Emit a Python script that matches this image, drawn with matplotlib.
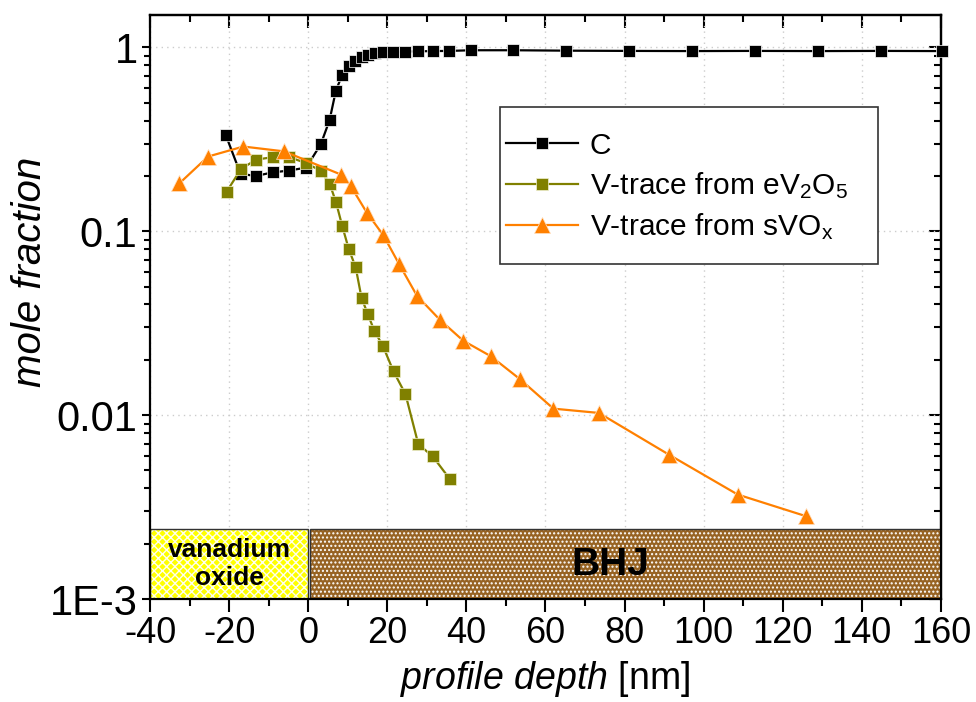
import matplotlib
matplotlib.use("Agg")
import matplotlib.pyplot as plt
from matplotlib.patches import Rectangle
import numpy as np

plt.rcParams['font.family'] = ['Liberation Sans', 'DejaVu Sans']
plt.rcParams['mathtext.fontset'] = 'custom'
plt.rcParams['mathtext.rm'] = 'Liberation Sans'
plt.rcParams['mathtext.it'] = 'Liberation Sans:italic'
plt.rcParams['mathtext.bf'] = 'Liberation Sans:bold'
plt.rcParams['mathtext.default'] = 'regular'

# ---- data ----
c_depth = [-20.8, -17.1, -13.2, -9.0, -4.8, -0.5, 3.2, 5.4, 7.0, 8.6, 10.2, 11.9,
           13.5, 15.1, 16.8, 18.8, 21.5, 24.6, 27.8, 31.5, 35.7, 41.2, 51.9,
           65.1, 81.1, 97.0, 113.0, 129.0, 144.8, 160.2]
c_frac = [0.332, 0.205, 0.200, 0.209, 0.214, 0.222, 0.298, 0.402, 0.582, 0.709,
          0.796, 0.848, 0.885, 0.911, 0.930, 0.942, 0.944, 0.949, 0.952, 0.955,
          0.957, 0.965, 0.965, 0.960, 0.957, 0.955, 0.957, 0.955, 0.957, 0.955]

e_depth = [-20.6, -17.0, -13.2, -9.0, -4.8, -0.56, 3.24, 5.44, 7.03, 8.62, 10.24,
           12.01, 13.48, 15.05, 16.71, 18.84, 21.57, 24.60, 27.84, 31.48, 35.78]
e_frac = [0.1645, 0.218, 0.245, 0.253, 0.253, 0.235, 0.213, 0.181, 0.144, 0.1065,
          0.0803, 0.0636, 0.0435, 0.0355, 0.0288, 0.0239, 0.0173, 0.0130,
          0.00695, 0.00597, 0.00450]

s_depth = [-32.6, -25.3, -16.4, -6.1, 8.4, 10.7, 14.8, 19.0, 23.0, 27.5, 33.3,
           39.2, 46.2, 53.6, 62.0, 73.5, 91.2, 108.6, 125.9]
s_frac = [0.182, 0.255, 0.289, 0.272, 0.203, 0.177, 0.1265, 0.0951, 0.0662,
          0.0446, 0.0330, 0.0254, 0.0209, 0.01566, 0.01085, 0.01028, 0.00610,
          0.00370, 0.00282]

series_labels = ['C', 'V-trace from eV$_2$O$_5$', 'V-trace from sVO$_x$']

layer_names = ['vanadium\noxide', 'BHJ']
layer_start = [-40, 0.4]
layer_end = [0, 160]
layer_top = 0.00239

xticks = [-40, -20, 0, 20, 40, 60, 80, 100, 120, 140, 160]
yticks = [1e-3, 1e-2, 1e-1, 1]
ytick_labels = ['1E-3', '0.01', '0.1', '1']

# ---- figure ----
fig = plt.figure(figsize=(9.76, 7.02), dpi=100)
ax = fig.add_axes([0.1537, 0.1467, 0.8104, 0.8319])
ax.set_yscale('log')
ax.set_xlim(-40, 160)
ax.set_ylim(1e-3, 1.5)

ax.grid(True, which='major', color='#cccccc', linestyle=(0, (1, 3)), linewidth=1.0)
ax.set_axisbelow(True)

# layer rectangles
bottom = 1e-3
styles = [dict(fc='#ffff00', hc='#fffff0', hatch='xxxx'),
          dict(fc='#976323', hc='#ffffff', hatch='....')]
for name, x0, x1, st in zip(layer_names, layer_start, layer_end, styles):
    ax.add_patch(Rectangle((x0, bottom), x1 - x0, layer_top - bottom,
                           facecolor=st['fc'], edgecolor='none', zorder=1.5))
    ax.add_patch(Rectangle((x0, bottom), x1 - x0, layer_top - bottom,
                           facecolor='none', edgecolor=st['hc'], hatch=st['hatch'],
                           linewidth=0, zorder=1.6))
    ax.add_patch(Rectangle((x0, bottom), x1 - x0, layer_top - bottom,
                           facecolor='none', edgecolor='#333333', linewidth=1.0,
                           zorder=1.7))

ax.text(-20, 0.00155, layer_names[0], ha='center', va='center', fontsize=19,
        fontweight='bold', linespacing=1.2, zorder=3)
ax.text(76.5, 0.00153, layer_names[1], ha='center', va='center', fontsize=28,
        fontweight='bold', zorder=3)

lw = 1.6
ax.plot(c_depth, c_frac, '-s', color='black', lw=lw, ms=8.5, mec='white', mew=0.5,
        label=series_labels[0], zorder=4, clip_on=False)
ax.plot(e_depth, e_frac, '-s', color='#808000', lw=lw, ms=8.5, mec='#f0f0d0', mew=0.5,
        label=series_labels[1], zorder=5)
ax.plot(s_depth, s_frac, '-^', color='#ff8000', lw=lw, ms=12, mec='#ffe0c0', mew=0.5,
        label=series_labels[2], zorder=6)

# ticks
ax.set_xticks(xticks)
ax.set_xticklabels([str(t) for t in xticks])
ax.set_xticks(np.arange(-30, 160, 20), minor=True)
ax.set_yticks(yticks)
ax.set_yticklabels(ytick_labels)
ax.tick_params(axis='x', which='major', direction='out', length=9, width=1.5, pad=3,
               labelsize=26)
ax.tick_params(axis='x', which='minor', direction='out', length=5, width=1.5)
ax.tick_params(axis='y', which='major', direction='out', length=6, width=1.5, pad=3,
               labelsize=30)
ax.tick_params(axis='y', which='minor', direction='out', length=4, width=1.5,
               labelleft=False)

for sp in ax.spines.values():
    sp.set_linewidth(1.6)

# top and right inward ticks
secx = ax.secondary_xaxis('top')
secx.set_xticks(xticks)
secx.set_xticks(np.arange(-30, 160, 20), minor=True)
secx.tick_params(axis='x', which='major', direction='in', length=9, width=1.5, labeltop=False)
secx.tick_params(axis='x', which='minor', direction='in', length=5, width=1.5)
secx.spines['top'].set_linewidth(1.6)

secy = ax.secondary_yaxis('right')
secy.set_yticks(yticks)
secy.tick_params(axis='y', which='major', direction='in', length=9, width=1.5, labelright=False)
secy.tick_params(axis='y', which='minor', direction='in', length=5, width=1.5, labelright=False)
secy.spines['right'].set_linewidth(1.6)

ax.set_xlabel('$\\it{profile\\ depth}$ [nm]', fontsize=27, labelpad=6)
ax.set_ylabel('mole fraction', fontsize=29, style='italic')
ax.yaxis.set_label_coords(-0.128, 0.56)

# legend (frame drawn separately to match the box)
ax.add_patch(Rectangle((0.4425, 0.5736), 0.9204 - 0.4425, 0.8425 - 0.5736,
                       transform=ax.transAxes, facecolor='white', edgecolor='#333333',
                       linewidth=1.2, zorder=9))
leg = ax.legend(loc='center left', bbox_to_anchor=(0.450, 0.7055), fontsize=21.5,
                frameon=False, borderaxespad=0, borderpad=0, handlelength=2.4,
                handletextpad=0.4, labelspacing=0.35)
leg.set_zorder(10)

fig.savefig('out.png', dpi=100)
